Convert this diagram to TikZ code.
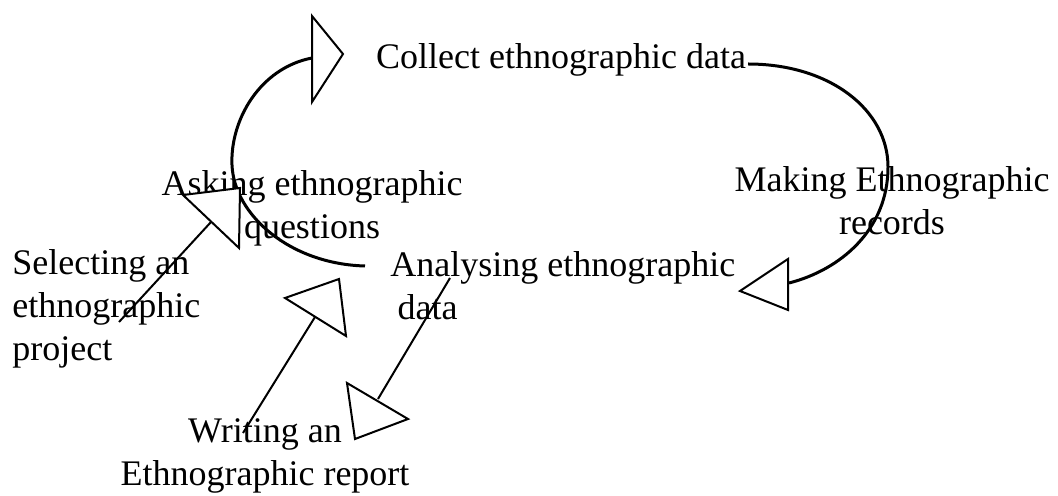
\documentclass[tikz,border=0pt]{standalone}
\usepackage{fontspec}
\setmainfont{Liberation Serif}

\begin{document}
\begin{tikzpicture}[x=0.5pt, y=-0.5pt, line join=miter,
    stage/.style={inner sep=0pt, font=\fontsize{18}{21.5}\selectfont},
    cycle line/.style={line width=1.5pt},
    feed line/.style={line width=1pt},
    head/.style={draw, fill=white, line width=1pt}]

        \useasboundingbox (0,0) rectangle (1058,496);

        %STAGES
        \node[stage] (collect) at (561,60) {Collect ethnographic data};
        \node[stage, align=center] (asking) at (312,208) {Asking ethnographic\\questions};
        \node[stage, align=center] (making) at (892,201) {Making Ethnographic\\records};
        \node[stage, align=left, anchor=west] (analysing) at (390,286) {Analysing ethnographic\\\hspace*{0.2em}data};
        \node[stage, align=left, anchor=west] (selecting) at (12,309) {Selecting an\\ethnographic\\project};
        \node[stage, align=center] (writing) at (265,456) {Writing an\\Ethnographic report};

        % THE CYCLE (TWO BIG CURVES)
        \coordinate (analysingout) at (365,266);
        \coordinate (collectin) at (312,58);
        \draw[cycle line] (analysingout) .. controls (290,264) and (234,215) .. (232,165)
                                         .. controls (230,120) and (260,68) .. (collectin);
        \coordinate (collectout) at (748,64);
        \coordinate (makingin) at (789,283);
        \draw[cycle line] (collectout) .. controls (830,64) and (888,110) .. (888,167)
                                       .. controls (888,230) and (840,270) .. (makingin);

        % FEEDS INTO THE CYCLE
        \coordinate (selectingout) at (119,322);
        \coordinate (askingin) at (211,222);
        \draw[feed line] (selectingout) -- (askingin);
        \coordinate (writingout) at (243,433);
        \coordinate (cyclein) at (315,317);
        \draw[feed line] (writingout) -- (cyclein);
        \coordinate (analysisout) at (450,278);
        \coordinate (writingin) at (378,399);
        \draw[feed line] (analysisout) -- (writingin);

        % ARROW HEADS (HOLLOW TRIANGLES)
        \draw[head] (312,16) -- (343,54) -- (312,102) -- cycle;
        \draw[head] (788,259) -- (740,291) -- (788,310) -- cycle;
        \draw[head] (183,195) -- (240,188) -- (239,248) -- cycle;
        \draw[head] (285,298) -- (339,279) -- (346,336) -- cycle;
        \draw[head] (347,383) -- (408,419) -- (355,439) -- cycle;

    \end{tikzpicture}
\end{document}
